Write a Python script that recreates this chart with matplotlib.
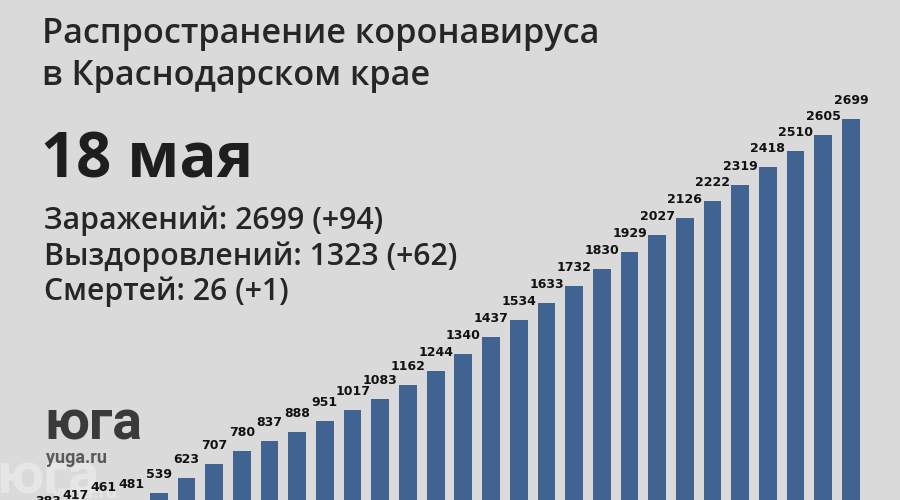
import matplotlib
matplotlib.use("Agg")
import matplotlib.pyplot as plt

# total infections per day, 19 April .. 18 May
values = [383, 417, 461, 481, 539, 623, 707, 780, 837, 888,
          951, 1017, 1083, 1162, 1244, 1340, 1437, 1534, 1633, 1732,
          1830, 1929, 2027, 2126, 2222, 2319, 2418, 2510, 2605, 2699]

title_lines = ["Распространение коронавируса", "в Краснодарском крае"]
date_label = "18 мая"
stats = ["Заражений: 2699 (+94)",
         "Выздоровлений: 1323 (+62)",
         "Смертей: 26 (+1)"]

bg = "#dadada"
bar_color = "#416391"
text_color = "#262626"

fig = plt.figure(figsize=(9, 5), dpi=100)
fig.patch.set_facecolor(bg)
ax = fig.add_axes([0, 0, 1, 1])
ax.set_facecolor(bg)

x = list(range(len(values)))
ax.bar(x, values, width=0.64, color=bar_color, zorder=2)
for xi, v in zip(x, values):
    ax.annotate(str(v), (xi, v), xytext=(0, 10.8), textcoords="offset points",
                ha="center", va="baseline", fontsize=9, fontweight="bold",
                family="DejaVu Sans", color="#111111", annotation_clip=False, zorder=3)

# bars start below the visible area, as in the original image
ax.set_xlim(-1.733, 30.77)
ax.set_ylim(497, 3385)
ax.axis("off")

H = 500.0
def fy(px):
    return 1 - px / H

renderer = fig.canvas.get_renderer()

def fit(t, width_px):
    # scale font so the text spans the same width as in the picture
    w = t.get_window_extent(renderer).width
    t.set_fontsize(t.get_fontsize() * width_px / w)

font = "Open Sans"
t1 = fig.text(42 / 900, fy(43), title_lines[0], fontsize=23, family=font, fontweight="semibold",
              color=text_color, va="baseline")
t2 = fig.text(42 / 900, fy(85), title_lines[1], fontsize=23, family=font, fontweight="semibold",
              color=text_color, va="baseline")
fit(t1, 560)
t2.set_fontsize(t1.get_fontsize())

td = fig.text(41 / 900, fy(177), date_label, fontsize=43, family=font, fontweight="bold",
              color="#1e1e1e", va="baseline")
fit(td, 212)

stat_texts = []
for i, s in enumerate(stats):
    t = fig.text(44 / 900, fy(229 + 35.5 * i), s, fontsize=20, family=font, fontweight="semibold",
                 color=text_color, va="baseline")
    stat_texts.append(t)
fit(stat_texts[1], 412)
for t in stat_texts:
    t.set_fontsize(stat_texts[1].get_fontsize())

# logo: faded watermark under the bars, main logo on top
ftr = fig.transFigure
ax.text(-4 / 900, fy(494), "юга", transform=ftr, fontsize=42, family="Roboto", fontweight="bold",
        color="#e6e6e6", va="baseline", zorder=1)
ax.text(52 / 900, fy(498), "yuga.ru", transform=ftr, fontsize=14, family="Roboto", fontweight="bold",
        color="#e6e6e6", va="baseline", zorder=1)
fig.text(44 / 900, fy(440), "юга", fontsize=40, family="Roboto", fontweight="bold",
         color="#3a3a3a", va="baseline")
fig.text(46 / 900, fy(463), "yuga.ru", fontsize=13, family="Roboto", fontweight="bold",
         color="#5a5a5a", va="baseline")

fig.savefig("out.png", dpi=100, facecolor=bg)
plt.close(fig)
